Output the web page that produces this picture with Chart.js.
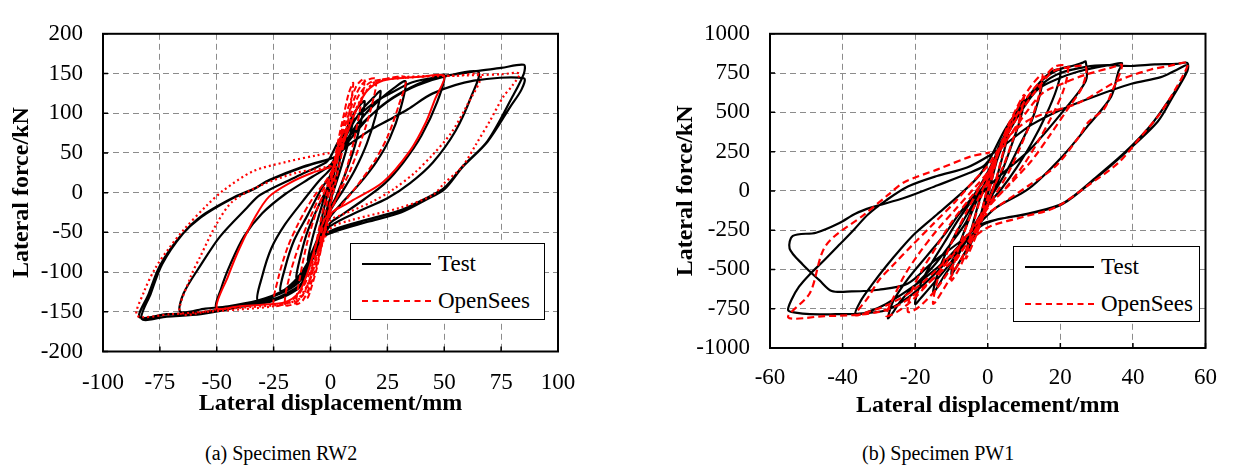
<!DOCTYPE html>
<html>
<head>
<meta charset="utf-8">
<script src="https://cdn.jsdelivr.net/npm/chart.js@4.4.1/dist/chart.umd.min.js"></script>
<style>
  body { margin: 0; background: #fff; width: 1233px; height: 468px; position: relative; overflow: hidden; font-family: "Liberation Serif", "Times New Roman", serif; }
  canvas { position: absolute; top: 0; }
  .legend { position: absolute; border: 1.5px solid #000; background: #fff; box-sizing: border-box; }
  .row { position: absolute; left: 0; height: 30px; width: 100%; }
  .swatch { position: absolute; left: 11px; width: 69px; top: 14px; height: 0; }
  .row span { position: absolute; left: 87px; top: 1px; font-size: 23px; line-height: 28px; }
  .caption { position: absolute; top: 441px; font-size: 20px; line-height: 24px; white-space: nowrap; }
</style>
</head>
<body>
<canvas id="rw2" width="600" height="430" style="left:0px"></canvas>
<canvas id="pw1" width="593" height="430" style="left:640px"></canvas>

<div class="legend" style="left:350px; top:243px; width:195px; height:77px;">
  <div class="row" style="top:5px"><div class="swatch" style="border-top:2.5px solid #000"></div><span>Test</span></div>
  <div class="row" style="top:42px"><div class="swatch" style="border-top:2.5px dashed #f00"></div><span>OpenSees</span></div>
</div>
<div class="legend" style="left:1013px; top:246px; width:187px; height:76px;">
  <div class="row" style="top:5px"><div class="swatch" style="border-top:2.5px solid #000"></div><span>Test</span></div>
  <div class="row" style="top:42px"><div class="swatch" style="border-top:2.5px dashed #f00"></div><span>OpenSees</span></div>
</div>

<div class="caption" style="left:205px">(a) Specimen RW2</div>
<div class="caption" style="left:862px">(b) Specimen PW1</div>

<script>
// axis ticks
const rw2DispTicks = [-100, -75, -50, -25, 0, 25, 50, 75, 100];
const rw2ForceTicks = [-200, -150, -100, -50, 0, 50, 100, 150, 200];
const pw1DispTicks = [-60, -40, -20, 0, 20, 40, 60];
const pw1ForceTicks = [-1000, -750, -500, -250, 0, 250, 500, 750, 1000];

// RW2 test curve [displacement mm, force kN]
const rw2Test = [
  [0,0],[2,30],[4,52],[5,60],[4,40],[2,15],[0,-5],[-2,-25],[-4,-45],[-5,-55],[-4,-35],[-2,-10],[0,10],
  [2,40],[5,65],[8,85],[10,95],[8,65],[5,35],[2,8],[0,-10],[-3,-35],[-6,-60],[-9,-80],[-10,-85],[-8,-58],[-5,-28],[-2,0],[0,15],
  [3,50],[7,80],[11,103],[15,115],[13,85],[10,52],[6,20],[2,-8],[0,-18],[-4,-50],[-8,-78],[-12,-98],[-15,-107],[-13,-78],[-10,-48],[-5,-15],[0,15],
  [3,45],[8,78],[14,105],[19,120],[22,128],[20,98],[16,62],[11,30],[6,5],[0,-22],[-5,-55],[-10,-88],[-16,-112],[-22,-124],[-20,-95],[-16,-60],[-10,-28],[-4,5],[0,22],
  [4,50],[9,75],[15,98],[22,118],[28,132],[33,140],[31,108],[26,68],[20,38],[13,12],[6,-10],[0,-30],[-4,-52],[-9,-85],[-15,-112],[-23,-128],[-32,-136],[-30,-105],[-26,-70],[-20,-40],[-12,-10],[-5,15],[0,30],
  [4,50],[10,72],[17,95],[25,115],[35,132],[43,142],[50,148],[47,115],[40,72],[32,38],[24,12],[15,-8],[5,-28],[0,-38],[-4,-55],[-9,-85],[-15,-112],[-24,-128],[-35,-138],[-50,-146],[-48,-120],[-44,-90],[-38,-55],[-30,-26],[-20,-2],[-8,20],[0,35],
  [5,60],[12,82],[20,103],[28,120],[38,135],[50,146],[65,152],[62,122],[55,78],[45,38],[35,12],[25,-7],[12,-24],[0,-42],[-4,-60],[-9,-90],[-14,-113],[-22,-127],[-32,-136],[-45,-143],[-55,-146],[-66,-150],[-64.6,-127],[-57,-91],[-48.5,-55],[-36.7,-19],[-31,-3],[-15,20],[-2,38],
  [0,45],[3,62],[7,80],[12,96],[20,115],[27,126],[36,139],[50,147],[64,153],[75,157],[85,161],[85,150],[80,121],[69,65],[58,33],[50,6],[42,-7],[31,-22],[16,-34],[1,-47],[-5,-58],[-10,-95],[-13,-115],[-20,-128],[-25,-134],[-40,-142],[-57,-151],[-72,-153],[-84,-157],[-80,-128],[-75,-92],[-66,-55],[-57,-31],[-43,-7],[-34,4],[-28,14],[-13,31],[-2,41],
  [2,45],[8,60],[17,78],[26,92],[34,105],[45,125],[63,141],[85,144],[84,130],[79,108],[69,64],[58,32],[50,4],[42,-9],[31,-25],[16,-37],[1,-50],[-5,-60],[-13,-117],[-25,-136],[-40,-144],[-57,-153],[-72,-156],[-83,-159],[-79,-127],[-74,-90],[-65,-52],[-56,-28],[-42,-5],[-33,6],[-27,16],[-12,33],[-1,42]
];

// RW2 OpenSees, inner cycles (dashed)
const rw2SimInner = [
  [0,0],[2,40],[4,65],[5,72],[3,40],[1,5],[0,-10],[-2,-40],[-4,-62],[-5,-70],[-3,-35],[-1,-5],[0,10],
  [3,60],[6,100],[8,125],[10,138],[8,95],[5,50],[2,10],[0,-15],[-3,-55],[-6,-95],[-9,-125],[-10,-132],[-8,-90],[-5,-45],[-2,-5],[0,15],
  [3,55],[7,100],[11,132],[13,140],[15,143],[13,105],[10,62],[6,20],[2,-12],[0,-22],[-4,-68],[-8,-110],[-12,-135],[-15,-140],[-13,-100],[-10,-60],[-6,-22],[-2,5],[0,18],
  [3,50],[7,90],[11,122],[15,140],[20,143],[18,108],[14,70],[9,30],[4,0],[0,-22],[-4,-60],[-8,-100],[-12,-128],[-16,-140],[-20,-141],[-18,-105],[-14,-68],[-9,-32],[-4,0],[0,20],
  [4,52],[8,90],[12,120],[17,138],[24,143],[33,145],[30,110],[25,70],[19,38],[12,10],[5,-15],[0,-28],[-4,-60],[-9,-100],[-14,-128],[-20,-140],[-25,-142],[-23,-108],[-19,-70],[-14,-38],[-8,-8],[-2,15],[0,24]
];

// RW2 OpenSees, 50 mm cycle (solid looking)
const rw2SimMid = [
  [0,24],[4,50],[8,80],[12,108],[16,128],[22,140],[30,144],[40,146],[50,147],[46,118],[42,89],[35,53],[23,13],[9,-11],[-2,-31],[-6,-62],[-10,-100],[-14,-126],[-20,-138],[-30,-141],[-40,-143],[-50,-145],[-45,-105],[-40,-70],[-33,-30],[-27,-5],[-18,12],[-8,25],[0,32]
];

// RW2 OpenSees, 65 and 85 mm cycles (dotted)
const rw2SimOuter = [
  [0,32],[5,62],[10,98],[15,125],[20,140],[30,145],[45,147],[55,147],[66,148],[60,110],[53,75],[45,48],[37,25],[28,5],[18,-12],[5,-28],[0,-35],[-5,-70],[-9,-110],[-13,-132],[-20,-140],[-35,-144],[-50,-147],[-66,-152],[-61.6,-107],[-57,-79],[-50,-39],[-43,-11],[-30,10],[-15,25],[0,35],
  [5,62],[10,98],[15,125],[20,140],[35,145],[50,147],[65,148],[75,149],[83,150],[80,135],[76,121],[70,90],[64,61],[58,33],[50,12],[45,-3],[30.6,-19],[8.6,-35],[0,-45],[-5,-75],[-10,-115],[-15,-135],[-25,-143],[-40,-147],[-55,-150],[-70,-153],[-85,-155],[-82,-125],[-77,-95],[-71,-70],[-64.6,-47],[-54,-15],[-47,3],[-34,27],[-19,39],[-6,47],[0,50]
];

// PW1 test curve
const pw1Test = [
  [0,0],[1,80],[2,170],[3,240],[2,150],[1,60],[0,-20],[-1,-100],[-2,-180],[-3,-250],[-2,-160],[-1,-70],[0,20],
  [1.5,120],[3,230],[4.5,330],[6,420],[5,300],[3.5,170],[2,50],[0,-60],[-2,-180],[-4,-300],[-6,-400],[-5,-290],[-3.5,-160],[-2,-40],[0,60],
  [2,160],[4,290],[6,400],[8,500],[10,580],[9,460],[7,320],[5,190],[3,70],[1,-40],[-1,-130],[-3,-250],[-6,-380],[-8,-460],[-10,-530],[-9,-420],[-7,-290],[-5,-170],[-3,-60],[-1,40],[0,90],
  [2,200],[5,350],[8,480],[11,590],[13,650],[15,700],[14,580],[12,440],[9,300],[6,160],[3,40],[0,-70],[-3,-190],[-6,-320],[-9,-440],[-12,-540],[-15,-650],[-14,-540],[-12,-420],[-9,-280],[-6,-160],[-3,-40],[0,80],
  [3,260],[6,400],[10,560],[14,680],[17,740],[20,770],[19,650],[16,480],[12,300],[8,150],[4,20],[0,-90],[-3,-200],[-7,-350],[-11,-480],[-15,-590],[-18,-670],[-20,-720],[-19,-620],[-16,-480],[-12,-330],[-8,-180],[-4,-50],[0,70],
  [3,280],[8.7,500],[13.3,663],[17.8,762],[20.5,780],[24,800],[26,815],[27,823],[27,700],[20.5,500],[11.4,258],[2.4,77],[-3,-60],[-6,-200],[-10,-330],[-15,-480],[-20,-600],[-24,-700],[-26,-770],[-27.5,-810],[-26,-700],[-22,-560],[-17,-420],[-12,-280],[-8,-150],[-3,0],[0,120],
  [4,300],[9,500],[14,650],[20,720],[25,760],[29.6,784],[34,803],[37,813],[36,760],[34,600],[27.8,420],[20.5,218],[11.4,16],[2.4,-105],[-2,-200],[-6,-300],[-12,-450],[-20,-600],[-28,-720],[-33,-770],[-36.5,-785],[-35,-700],[-32,-600],[-28,-480],[-24,-370],[-20,-270],[-14,-150],[-8,-30],[-3,80],[0,180],
  [5,400],[10,560],[15,680],[20,750],[27,790],[33,800],[39.6,795],[46,805],[52,808],[55,815],[55,762],[51,600],[46.8,440],[37.8,240],[29.6,77],[20.5,-85],[11.4,-145],[2.4,-184],[-2,-226],[-5,-300],[-10,-420],[-16,-560],[-22,-680],[-28,-760],[-36,-782],[-42,-785],[-49,-785],[-53,-775],[-55,-760],[-54,-690],[-52,-610],[-49,-530],[-45,-440],[-41,-345],[-37,-250],[-33,-150],[-28,-60],[-22,28],[-14,95],[-5.7,149],[0.6,227],
  [5,300],[12,420],[20.5,520],[29.6,603],[39.6,682],[47.7,724],[52,770],[55,800],[54,720],[50,580],[45,420],[38,250],[30,90],[21,-75],[12,-140],[3,-180],[-2,-215],[-8,-330],[-15,-450],[-22,-589],[-30,-629],[-37.5,-640],[-43,-637],[-46.4,-568],[-51,-468],[-54.6,-367],[-53.7,-286],[-47.3,-266],[-41,-206],[-36.5,-145],[-32,-105],[-22.9,-44],[-13.8,36],[-4.8,117],[-1.2,157],[0.5,200]
];

// PW1 OpenSees
const pw1Sim = [
  [0,0],[1,90],[2,180],[3,260],[2,160],[1,60],[0,-40],[-1,-120],[-2,-200],[-3,-270],[-2,-170],[-1,-70],[0,30],
  [2,170],[4,320],[6,440],[5,320],[3.5,180],[2,50],[0,-80],[-2,-210],[-4,-330],[-6,-430],[-5,-310],[-3.5,-170],[-2,-50],[0,70],
  [2,190],[5,380],[8,530],[10,610],[9,480],[7,330],[4.5,170],[2,40],[0,-80],[-3,-240],[-6,-400],[-8,-500],[-10,-570],[-9,-440],[-7,-300],[-4.5,-140],[-2,-20],[0,80],
  [3,250],[6,420],[9,560],[12,670],[15,740],[14,600],[12,450],[9,280],[6,130],[3,10],[0,-100],[-3,-240],[-7,-420],[-11,-580],[-15,-720],[-14,-580],[-12,-440],[-9,-280],[-6,-140],[-3,-10],[0,110],
  [3,260],[7,440],[11,600],[15,710],[18.7,793],[22,790],[21,650],[18,490],[14,320],[10,170],[5,20],[0,-110],[-4,-270],[-9,-450],[-14,-620],[-19,-740],[-22,-770],[-21,-640],[-18,-500],[-14,-350],[-10,-200],[-5,-50],[0,100],
  [4,300],[9,500],[14,660],[18,760],[22,785],[27,790],[26,660],[22,520],[17,350],[12,190],[6,40],[0,-100],[-5,-260],[-10,-420],[-16,-580],[-21,-700],[-25,-770],[-28,-795],[-26,-680],[-23,-540],[-19,-400],[-14,-250],[-9,-120],[-4,10],[0,120],
  [4,280],[10,480],[15,620],[20.5,682],[27,740],[34,784],[37,800],[34,620],[32,520],[27.8,440],[25,340],[18.7,157],[11.4,36],[2.4,-105],[-2,-180],[-7,-330],[-14,-500],[-21,-640],[-28,-730],[-33,-770],[-36.5,-790],[-33,-680],[-30,-569],[-26,-470],[-21,-350],[-15,-210],[-9,-70],[-4,60],[0,160],
  [5,330],[12,460],[25,560],[36,702],[45,773],[50,795],[55,815],[54,742],[47.7,500],[42,340],[36,179],[27.7,36],[18.7,-105],[9.7,-166],[0.6,-226],[-4,-300],[-10,-450],[-17,-600],[-24,-720],[-30,-770],[-36.5,-790],[-45,-797],[-55,-805],[-49,-650],[-44.6,-347],[-33.7,-145],[-27.4,-24],[-22.9,57],[-13.8,137],[-4.8,218],[0.6,245]
];

const serif = "'Liberation Serif', 'Times New Roman', serif";

function pts(arr) {
  return arr.map(p => ({ x: p[0], y: p[1] }));
}

// plot frame plus short inward tick marks on the left and bottom axes
const frame = {
  id: 'frame',
  afterDatasetsDraw(chart) {
    const { ctx, chartArea: a, scales } = chart;
    ctx.save();
    ctx.strokeStyle = '#000';
    ctx.lineWidth = 2;
    ctx.strokeRect(a.left, a.top, a.right - a.left, a.bottom - a.top);
    ctx.lineWidth = 1.5;
    ctx.beginPath();
    scales.y.ticks.forEach(t => {
      const y = scales.y.getPixelForValue(t.value);
      ctx.moveTo(a.left, y);
      ctx.lineTo(a.left + 5, y);
    });
    scales.x.ticks.forEach(t => {
      const x = scales.x.getPixelForValue(t.value);
      ctx.moveTo(x, a.bottom);
      ctx.lineTo(x, a.bottom - 5);
    });
    ctx.stroke();
    ctx.restore();
  }
};

function line(data, color, dash, width) {
  return {
    data: pts(data),
    showLine: true,
    borderColor: color,
    borderWidth: width,
    borderDash: dash,
    pointRadius: 0,
    tension: 0.3,
    fill: false
  };
}

function makeChart(id, box, xTicks, yTicks, datasets) {
  return new Chart(document.getElementById(id), {
    type: 'scatter',
    data: { datasets },
    options: {
      responsive: false,
      animation: false,
      events: [],
      layout: { padding: { left: 0, right: box.padRight, top: box.padTop, bottom: 0 } },
      plugins: { legend: { display: false }, tooltip: { enabled: false } },
      scales: {
        x: {
          min: xTicks[0], max: xTicks[xTicks.length - 1],
          afterBuildTicks: s => { s.ticks = xTicks.map(v => ({ value: v })); },
          afterFit: s => { s.height = box.xHeight; },
          ticks: { color: '#000', padding: box.xTickPad, font: { family: serif, size: 23 }, callback: v => String(v) },
          grid: { color: '#8c8c8c', lineWidth: 1, drawTicks: false },
          border: { display: false, dash: [6, 4] },
          title: { display: true, text: 'Lateral displacement/mm', color: '#000', padding: { top: 0, bottom: box.xTitlePad }, font: { family: serif, size: 24, weight: 'bold' } }
        },
        y: {
          min: yTicks[0], max: yTicks[yTicks.length - 1],
          afterBuildTicks: s => { s.ticks = yTicks.map(v => ({ value: v })); },
          afterFit: s => { s.width = box.yWidth; },
          ticks: { color: '#000', padding: 20, font: { family: serif, size: 23 }, callback: v => String(v) },
          grid: { color: '#8c8c8c', lineWidth: 1, drawTicks: false },
          border: { display: false, dash: [6, 4] },
          title: { display: true, text: 'Lateral force/kN', color: '#000', padding: { top: box.yTitlePad, bottom: 0 }, font: { family: serif, size: 24, weight: 'bold' } }
        }
      }
    },
    plugins: [frame]
  });
}

makeChart('rw2', { padRight: 42, padTop: 17.5, xHeight: 78.5, yWidth: 103, xTickPad: 18, xTitlePad: 12, yTitlePad: 7 },
  rw2DispTicks, rw2ForceTicks, [
    line(rw2SimInner, '#ff0000', [6, 3], 2),
    line(rw2SimMid, '#ff0000', [], 2),
    line(rw2SimOuter, '#ff0000', [2, 3], 2.2),
    line(rw2Test, '#000000', [], 2.2)
  ]);

makeChart('pw1', { padRight: 21, padTop: 17.3, xHeight: 82, yWidth: 130, xTickPad: 16, xTitlePad: 10, yTitlePad: 31 },
  pw1DispTicks, pw1ForceTicks, [
    line(pw1Sim, '#ff0000', [7, 4], 2.2),
    line(pw1Test, '#000000', [], 2.2)
  ]);
</script>
</body>
</html>
